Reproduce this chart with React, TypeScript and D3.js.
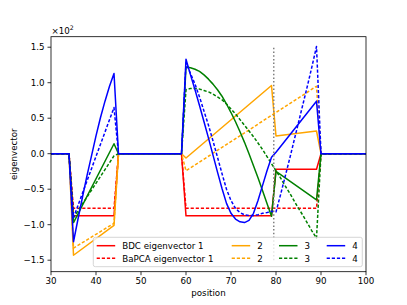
import React from "react";
import * as d3 from "d3";

// ---- data (values in units of 10^2) ----
const xTicks = [30, 40, 50, 60, 70, 80, 90, 100];
const yTicks = [-1.5, -1.0, -0.5, 0.0, 0.5, 1.0, 1.5];

const bdc1: [number, number][] = [
  [30, 0], [34, 0], [35, -0.875], [44, -0.875], [45, 0], [59, 0],
  [60, -0.875], [79, -0.875], [80, -0.22], [89, -0.22], [90, 0], [100, 0],
];
const bapca1: [number, number][] = [
  [30, 0], [34, 0], [35, -0.77], [44, -0.77], [45, 0], [59, 0],
  [60, -0.77], [89, -0.77], [90, 0], [100, 0],
];
const bdc2: [number, number][] = [
  [30, 0], [34, 0], [35, -1.43], [44, -1.01], [45, 0], [59, 0],
  [60, -0.06], [79, 0.96], [80, 0.25], [89, 0.32], [90, 0], [100, 0],
];
const bapca2: [number, number][] = [
  [30, 0], [34, 0], [35, -1.33], [44, -0.98], [45, 0], [59, 0],
  [60, -0.24], [89, 0.95], [90, 0], [100, 0],
];

// block values, listed from their first position
const bdc3Block1 = { start: 35, values: [-0.97, 0.14], step: 9 };
const bdc3Block2 = {
  start: 60, step: 1,
  values: [1.22, 1.21, 1.19, 1.16, 1.11, 1.05, 0.98, 0.9, 0.81, 0.7, 0.58, 0.45, 0.31, 0.16, 0.0, -0.17, -0.34, -0.52, -0.7, -0.88],
};
const bdc3Block3 = { start: 80, values: [-0.25, -0.65], step: 9 };

const bapca3Block1 = { start: 35, values: [-0.9, -0.03], step: 9 };
const bapca3Block2 = {
  start: 60, step: 1,
  values: [0.9, 0.92, 0.92, 0.91, 0.89, 0.87, 0.84, 0.8, 0.76, 0.7, 0.63, 0.56, 0.48, 0.4, 0.32, 0.24, 0.15, 0.06, -0.04, -0.14,
    -0.24, -0.34, -0.45, -0.55, -0.66, -0.77, -0.87, -0.98, -1.09, -1.19],
};

const bdc4Block1 = {
  start: 35, step: 1,
  values: [-1.24, -0.92, -0.61, -0.31, -0.03, 0.25, 0.51, 0.74, 0.95, 1.13],
};
const bdc4Block2 = {
  start: 60, step: 1,
  values: [1.33, 1.11, 0.9, 0.68, 0.45, 0.22, -0.02, -0.26, -0.49, -0.7, -0.84, -0.92, -0.96, -0.97, -0.94, -0.84, -0.66, -0.45, -0.24, -0.05],
};
const bdc4Block3 = { start: 80, values: [0.02, 0.74], step: 9 };

const bapca4Block1 = { start: 35, values: [-0.9, 0.65], step: 9 };
const bapca4Block2 = {
  start: 60, step: 1,
  values: [1.28, 1.13, 0.98, 0.8, 0.6, 0.4, 0.18, -0.05, -0.28, -0.5, -0.66, -0.77, -0.83, -0.86, -0.87, -0.87, -0.86, -0.84, -0.83, -0.81],
};
const bapca4Block3 = {
  start: 80, step: 1,
  values: [-0.82, -0.58, -0.33, -0.08, 0.18, 0.44, 0.7, 0.96, 1.23, 1.51],
};

const zeroBreaks: [number, number][] = [[30, 0], [34, 0], [45, 0], [59, 0], [90, 0], [100, 0]];

type Block = { start: number; values: number[]; step: number };
function assemble(blocks: Block[]): [number, number][] {
  const pts: [number, number][] = [...zeroBreaks];
  blocks.forEach((b) => b.values.forEach((v, i) => pts.push([b.start + i * b.step, v])));
  return pts.sort((a, b) => a[0] - b[0]);
}

const bdc3 = assemble([bdc3Block1, bdc3Block2, bdc3Block3]);
const bapca3 = assemble([bapca3Block1, bapca3Block2]);
const bdc4 = assemble([bdc4Block1, bdc4Block2, bdc4Block3]);
const bapca4 = assemble([bapca4Block1, bapca4Block2, bapca4Block3]);

const seriesNames = ["BDC eigenvector 1", "BaPCA eigenvector 1", "2", "2", "3", "3", "4", "4"];
const seriesData = [bdc1, bapca1, bdc2, bapca2, bdc3, bapca3, bdc4, bapca4];
const seriesColors = ["#ff0000", "#ff0000", "#ffa500", "#ffa500", "#008000", "#008000", "#0000ff", "#0000ff"];
const seriesDashed = [false, true, false, true, false, true, false, true];

const vlineX = 79.5;
const vlineRange = [-1.5, 1.5];

const W = 407, H = 305;
const L = 51, R = 366, T = 36.7, B = 271.7;
const FONT = "DejaVu Sans, sans-serif";
const FS = 8.7;

export default function App() {
  const x = d3.scaleLinear().domain([30, 100]).range([L, R]);
  const y = d3.scaleLinear().domain([-1.662, 1.648]).range([B, T]);
  const line = d3.line<[number, number]>().x((d) => x(d[0])).y((d) => y(d[1]));
  const fmt = (v: number) => (v < 0 ? "\u2212" : "") + Math.abs(v).toFixed(1);

  const legendCols = [96.7, 231.7, 279, 326.7];
  const legendRows = [245.7, 258.3];

  return (
    <svg width={W} height={H} style={{ position: "absolute", left: 0, top: 0, background: "#fff" }} fontFamily={FONT}>
      <defs>
        <clipPath id="plot">
          <rect x={L} y={T} width={R - L} height={B - T} />
        </clipPath>
      </defs>
      <g clipPath="url(#plot)">
        {seriesData.map((d, i) => (
          <path key={i} d={line(d) || ""} fill="none" stroke={seriesColors[i]} strokeWidth={1.5}
            strokeDasharray={seriesDashed[i] ? "3.2,1.9" : undefined} strokeLinejoin="round" />
        ))}
        <line x1={x(vlineX)} x2={x(vlineX)} y1={y(vlineRange[0])} y2={y(vlineRange[1])}
          stroke="#808080" strokeWidth={1.5} strokeDasharray="1.5,2.2" />
      </g>
      <rect x={L} y={T} width={R - L} height={B - T} fill="none" stroke="#000" strokeWidth={0.8} />
      {xTicks.map((t) => (
        <g key={t}>
          <line x1={x(t)} x2={x(t)} y1={B} y2={B + 3.5} stroke="#000" strokeWidth={0.8} />
          <text x={x(t)} y={B + 12.4} textAnchor="middle" fontSize={FS}>{t}</text>
        </g>
      ))}
      {yTicks.map((t) => (
        <g key={t}>
          <line x1={L - 3.5} x2={L} y1={y(t)} y2={y(t)} stroke="#000" strokeWidth={0.8} />
          <text x={L - 6.5} y={y(t) + 3.2} textAnchor="end" fontSize={FS}>{fmt(t)}</text>
        </g>
      ))}
      <text x={51.5} y={33.5} fontSize={FS}>
        ×10<tspan dy={-3.5} fontSize={6.2}>2</tspan>
      </text>
      <text x={(L + R) / 2} y={296} textAnchor="middle" fontSize={FS}>position</text>
      <text transform={`translate(17,${(T + B) / 2}) rotate(-90)`} textAnchor="middle" fontSize={FS}>eigenvector</text>
      <rect x={93.3} y={237.3} width={269} height={29.4} rx={2} fill="#fff" fillOpacity={0.8} stroke="#cccccc" strokeWidth={0.8} />
      {seriesNames.map((n, i) => {
        const col = Math.floor(i / 2), row = i % 2;
        const lx = legendCols[col], ly = legendRows[row];
        return (
          <g key={i}>
            <line x1={lx} x2={lx + 18.5} y1={ly} y2={ly} stroke={seriesColors[i]} strokeWidth={1.5}
              strokeDasharray={seriesDashed[i] ? "3.2,1.9" : undefined} />
            <text x={lx + 25.5} y={ly + 3.2} fontSize={FS}>{n}</text>
          </g>
        );
      })}
    </svg>
  );
}
